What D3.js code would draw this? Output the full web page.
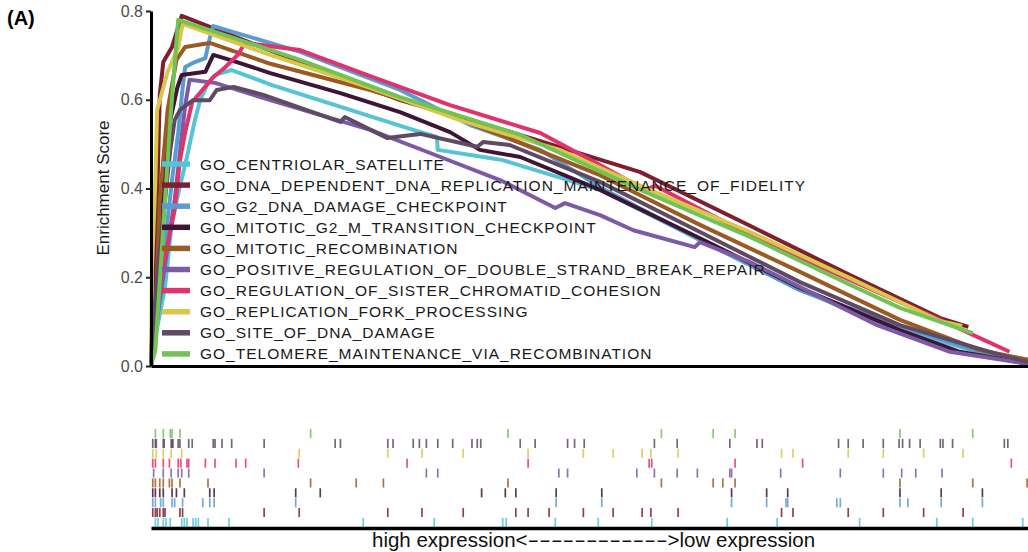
<!DOCTYPE html>
<html>
<head>
<meta charset="utf-8">
<script src="https://cdn.jsdelivr.net/npm/d3@7/dist/d3.min.js"></script>
<style>
  body { margin: 0; background: #fff; }
  svg { font-family: Arial, "Liberation Sans", sans-serif; }
</style>
</head>
<body>
<div id="chart"></div>
<script>
// gene sets, in legend order
var geneSets = [
  "GO_CENTRIOLAR_SATELLITE",
  "GO_DNA_DEPENDENT_DNA_REPLICATION_MAINTENANCE_OF_FIDELITY",
  "GO_G2_DNA_DAMAGE_CHECKPOINT",
  "GO_MITOTIC_G2_M_TRANSITION_CHECKPOINT",
  "GO_MITOTIC_RECOMBINATION",
  "GO_POSITIVE_REGULATION_OF_DOUBLE_STRAND_BREAK_REPAIR",
  "GO_REGULATION_OF_SISTER_CHROMATID_COHESION",
  "GO_REPLICATION_FORK_PROCESSING",
  "GO_SITE_OF_DNA_DAMAGE",
  "GO_TELOMERE_MAINTENANCE_VIA_RECOMBINATION"
];
var setColors = ["#55c4d4", "#7d1f2f", "#5b9bd1", "#3f1535", "#9b5a22",
                 "#7c5ba6", "#e0336e", "#d8c748", "#5f4a63", "#72c255"];

// running enrichment score: [rank position (% of ranked list), ES]
var esCentriolar = [[0,0],[0.5,0.065],[1.6,0.178],[2.4,0.329],[4.2,0.48],[5.0,0.554],[5.6,0.599],[6.4,0.633],[7.3,0.656],[9.2,0.667],[13.8,0.633],[29.9,0.532],[32.6,0.516],[32.7,0.487],[37.9,0.471],[40.1,0.464],[51.2,0.397],[62.6,0.284],[74.0,0.171],[85.4,0.081],[96.8,0.018],[100,0.007]];
var esDnaDependent = [[0,0],[0.2,0.149],[0.7,0.374],[1.0,0.611],[1.4,0.685],[2.4,0.719],[3.5,0.789],[17.0,0.685],[28.4,0.599],[42.1,0.521],[55.8,0.437],[68.3,0.316],[79.7,0.205],[90.0,0.108],[93.2,0.088]];
var esG2Damage = [[0,0],[1.0,0.171],[2.4,0.419],[3.1,0.525],[3.6,0.626],[3.9,0.674],[5.0,0.685],[6.2,0.694],[6.7,0.739],[7.1,0.766],[17.0,0.708],[28.4,0.622],[36.4,0.543],[44.4,0.487],[51.2,0.403],[62.6,0.284],[74.0,0.171],[84.3,0.097],[94.9,0.029],[100,0.014]];
var esG2M = [[0,0],[0.5,0.149],[1.3,0.374],[2.2,0.554],[3.0,0.627],[3.5,0.656],[6.2,0.663],[7.1,0.701],[9.0,0.69],[13.6,0.66],[21.6,0.615],[28.4,0.572],[34.1,0.527],[37.5,0.487],[42.1,0.471],[51.2,0.397],[62.6,0.288],[74.0,0.176],[85.4,0.081],[92.2,0.032],[100,0.005]];
var esRecombination = [[0,0],[0.5,0.104],[1.0,0.374],[1.9,0.577],[2.9,0.69],[3.9,0.719],[6.7,0.728],[13.6,0.681],[25.0,0.622],[31.8,0.581],[39.8,0.521],[51.2,0.43],[62.6,0.318],[74.0,0.212],[85.4,0.104],[94.5,0.036],[100,0.014]];
var esDsbRepair = [[0,0],[1.0,0.149],[2.7,0.374],[3.9,0.588],[4.4,0.645],[7.3,0.638],[13.6,0.599],[25.0,0.532],[33.0,0.471],[39.8,0.419],[46.1,0.356],[47.2,0.367],[51.2,0.34],[55.0,0.306],[62.0,0.268],[62.6,0.279],[68.3,0.234],[74.0,0.178],[82.8,0.092],[91.1,0.032],[100,0.005]];
var esCohesion = [[0,0],[0.2,0.104],[1.3,0.216],[2.7,0.352],[3.3,0.464],[3.9,0.527],[4.7,0.595],[5.4,0.611],[7.0,0.649],[8.4,0.672],[9.9,0.701],[10.7,0.728],[17.0,0.712],[25.3,0.651],[34.1,0.588],[44.4,0.525],[51.2,0.453],[56.3,0.397],[57.5,0.406],[68.3,0.295],[79.7,0.194],[90.0,0.104],[97.9,0.032]];
var esForkProcessing = [[0,0],[0.1,0.216],[0.5,0.419],[0.7,0.577],[1.9,0.663],[3.1,0.717],[3.6,0.771],[13.6,0.701],[25.0,0.627],[35.2,0.554],[46.6,0.487],[55.8,0.406],[68.3,0.302],[79.7,0.198],[90.0,0.101],[92.5,0.09]];
var esSiteDamage = [[0,0],[0.1,0.059],[1.0,0.261],[2.2,0.487],[2.7,0.554],[3.3,0.577],[4.8,0.599],[6.7,0.599],[7.5,0.622],[9.4,0.629],[12.8,0.611],[21.6,0.55],[22.1,0.561],[26.9,0.514],[30.7,0.523],[37.2,0.494],[37.9,0.505],[40.9,0.498],[51.2,0.415],[62.6,0.302],[74.0,0.189],[85.4,0.092],[96.8,0.025],[100,0.009]];
var esTelomere = [[0,0],[0.5,0.036],[1.6,0.374],[2.2,0.554],[3.1,0.78],[17.0,0.69],[28.4,0.606],[42.1,0.521],[55.8,0.397],[68.3,0.291],[79.7,0.183],[85.4,0.131],[93.7,0.074]];

// positions of the gene set members in the ranked list (%)
var hitsCentriolar = [0.5,0.8,1.4,1.7,2.2,3.5,3.8,4.1,4.8,5.1,5.4,6.5,8.9,24.2,32.3,40.1,40.5,46.1,51.0,57.1,65.7,71.4,80.8,89.6,93.7,99.4];
var hitsDnaDependent = [0.2,0.5,0.7,1.0,1.4,1.6,3.3,3.6,12.9,16.9,27.0,30.9,35.6,41.6,43.0,45.4,49.3,52.7,56.0,57.0,60.1,71.9,73.2,79.5,83.5,88.1,92.6];
var hitsG2Damage = [0.2,0.5,1.1,1.4,2.4,2.7,3.6,5.9,6.7,7.2,16.5,46.2,51.4,66.2,70.2,72.4,72.6,78.2,78.6,85.4,86.3,90.1,94.8];
var hitsG2M = [0.2,0.5,1.0,1.4,2.4,2.9,3.8,6.7,7.2,16.5,19.3,37.7,40.4,41.6,46.2,51.4,66.2,70.2,72.6,85.4,90.1,94.8];
var hitsRecombination = [0.2,0.5,1.0,1.4,2.1,2.4,3.3,6.5,18.2,23.4,26.5,40.7,58.2,64.1,65.2,66.6,85.4,93.7,99.9];
var hitsDsbRepair = [0.3,1.4,2.3,3.1,3.5,4.3,12.9,31.4,32.7,46.5,47.5,55.4,57.4,60.0,62.3,66.0,66.2,71.8,78.6,83.5,85.6,87.2,90.2];
var hitsCohesion = [0.2,0.5,1.4,2.1,3.1,3.4,4.1,4.3,6.2,7.3,9.7,10.8,16.8,29.2,43.0,56.8,57.1,66.6,74.3,98.1];
var hitsForkProcessing = [0.2,0.6,1.4,2.3,3.5,16.9,27.0,30.9,35.6,43.0,49.3,52.7,56.0,57.0,60.1,71.9,73.2,79.5,83.5,88.1,92.6];
var hitsSiteDamage = [0.2,0.5,0.6,1.4,1.5,2.3,2.4,2.5,3.1,3.3,4.3,4.7,7.1,7.3,8.1,9.2,12.9,21.0,21.6,27.0,27.6,29.9,30.6,31.4,32.7,34.4,36.6,37.2,37.6,42.1,43.8,47.5,48.3,49.4,57.4,60.0,66.0,69.1,69.7,78.4,79.5,81.2,83.5,85.3,85.7,86.5,87.7,90.0,90.3,91.4,97.3,97.7];
var hitsTelomere = [0.5,1.4,2.2,2.4,3.3,18.2,40.7,58.2,64.1,66.6,85.4,93.7];

var yTicks = [0, 0.2, 0.4, 0.6, 0.8];

var esCurves = [esCentriolar, esDnaDependent, esG2Damage, esG2M, esRecombination,
                esDsbRepair, esCohesion, esForkProcessing, esSiteDamage, esTelomere];
var hitLists = [hitsCentriolar, hitsDnaDependent, hitsG2Damage, hitsG2M, hitsRecombination,
                hitsDsbRepair, hitsCohesion, hitsForkProcessing, hitsSiteDamage, hitsTelomere];

var W = 1028, H = 552;
var svg = d3.select("#chart").append("svg")
    .attr("width", W)
    .attr("height", H);

var x = d3.scaleLinear().domain([0, 100]).range([151, 1028]);
var y = d3.scaleLinear().domain([0, 0.8]).range([366, 11]);

// panel label
svg.append("text")
    .attr("x", 7).attr("y", 25)
    .style("font-weight", "bold").style("font-size", "20px")
    .text("(A)");

// running ES lines
var line = d3.line()
    .x(function (d) { return x(d[0]); })
    .y(function (d) { return y(d[1]); });

svg.append("g").selectAll("path")
    .data(esCurves)
    .enter().append("path")
    .attr("d", line)
    .attr("fill", "none")
    .attr("stroke", function (d, i) { return setColors[i]; })
    .attr("stroke-width", 4)
    .attr("stroke-linejoin", "round");

// axes
var yAxis = svg.append("g")
    .attr("transform", "translate(151,0)")
    .call(d3.axisLeft(y).tickValues(yTicks).tickFormat(d3.format(".1f")).tickSize(5).tickSizeOuter(0));
yAxis.select(".domain").attr("stroke", "#000").attr("stroke-width", 3);
yAxis.selectAll(".tick line").attr("stroke", "#222").attr("stroke-width", 2);
yAxis.selectAll(".tick text")
    .attr("fill", "#4d4d4d").style("font-size", "16px").attr("x", -8);

var xAxis = svg.append("g")
    .attr("transform", "translate(0,366)")
    .call(d3.axisBottom(x).tickValues([]).tickSizeOuter(0));
xAxis.select(".domain").attr("stroke", "#000").attr("stroke-width", 3);

svg.append("text")
    .attr("transform", "translate(109,188) rotate(-90)")
    .attr("text-anchor", "middle")
    .style("font-size", "17px")
    .attr("fill", "#1a1a1a")
    .text("Enrichment Score");

// legend
var legend = svg.append("g").selectAll("g")
    .data(geneSets)
    .enter().append("g")
    .attr("transform", function (d, i) { return "translate(0," + (164 + i * 21.1) + ")"; });
legend.append("line")
    .attr("x1", 162).attr("x2", 190)
    .attr("stroke", function (d, i) { return setColors[i]; })
    .attr("stroke-width", 5.5);
legend.append("text")
    .attr("x", 200).attr("dy", "0.36em")
    .style("font-size", "15.5px")
    .style("letter-spacing", "1px")
    .attr("fill", "#1a1a1a")
    .text(function (d) { return d; });

// hit rug, one row per gene set (last set on top)
var rows = d3.scaleBand()
    .domain(d3.range(geneSets.length).reverse())
    .range([429, 527])
    .paddingInner(0.08);

var rug = svg.append("g").selectAll("g")
    .data(hitLists)
    .enter().append("g")
    .attr("transform", function (d, i) { return "translate(0," + rows(i) + ")"; });
rug.selectAll("line")
    .data(function (d, i) { return d.map(function (v) { return { v: v, k: i }; }); })
    .enter().append("line")
    .attr("x1", function (d) { return x(d.v); })
    .attr("x2", function (d) { return x(d.v); })
    .attr("y1", 0)
    .attr("y2", rows.bandwidth())
    .attr("stroke", function (d) { return setColors[d.k]; })
    .attr("stroke-opacity", 0.85)
    .attr("stroke-width", 1.7);

var rugAxis = svg.append("g")
    .attr("transform", "translate(0,528)")
    .call(d3.axisBottom(x).tickValues([]).tickSizeOuter(0));
rugAxis.select(".domain").attr("stroke", "#000").attr("stroke-width", 3.5);

// direction label; the dashes are stretched like in the original
var dirLabel = svg.append("text")
    .attr("x", 372).attr("y", 547)
    .style("font-size", "20.5px")
    .attr("fill", "#111");
dirLabel.append("tspan").text("high expression<");
dirLabel.append("tspan")
    .attr("textLength", 140)
    .attr("lengthAdjust", "spacingAndGlyphs")
    .text("------------");
dirLabel.append("tspan").text(">low expression");
</script>
</body>
</html>
